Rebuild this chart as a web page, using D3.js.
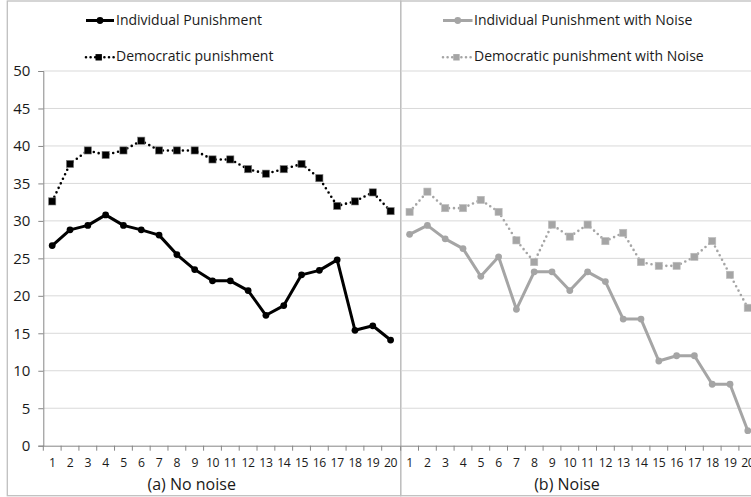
<!DOCTYPE html>
<html>
<head>
<meta charset="utf-8">
<script src="https://cdn.jsdelivr.net/npm/d3@7"></script>
<style>
  html, body { margin: 0; padding: 0; background: #fff; }
  svg { display: block; font-family: "Open Sans", sans-serif; }
</style>
</head>
<body>
<svg id="chart" width="751" height="497"></svg>
<script>
// ---- data ----
const rounds = d3.range(1, 21);
const yTicks = [0, 5, 10, 15, 20, 25, 30, 35, 40, 45, 50];
const individual = [26.7, 28.8, 29.4, 30.8, 29.4, 28.8, 28.1, 25.5, 23.5, 22.0, 22.0, 20.7, 17.4, 18.7, 22.8, 23.4, 24.8, 15.4, 16.0, 14.1];
const democratic = [32.6, 37.6, 39.4, 38.8, 39.4, 40.7, 39.4, 39.4, 39.4, 38.2, 38.2, 36.9, 36.3, 36.9, 37.6, 35.7, 32.0, 32.6, 33.8, 31.3];
const individualNoise = [28.2, 29.4, 27.6, 26.3, 22.6, 25.2, 18.2, 23.2, 23.2, 20.7, 23.2, 21.9, 16.9, 16.9, 11.3, 12.0, 12.0, 8.2, 8.2, 2.0];
const democraticNoise = [31.2, 33.9, 31.7, 31.7, 32.8, 31.2, 27.4, 24.5, 29.5, 27.9, 29.5, 27.3, 28.4, 24.5, 24.0, 24.0, 25.2, 27.3, 22.8, 18.4];
const panelTitles = ["(a) No noise", "(b) Noise"];
const legendLabels = [["Individual Punishment", "Democratic punishment"],
                      ["Individual Punishment with Noise", "Democratic punishment with Noise"]];

const svg = d3.select("#chart");
const black = "#000000", gray = "#a5a5a5";
const borderCol = "#bfbfbf", gridCol = "#d9d9d9", axisCol = "#868686";

const yTop = 71, yBottom = 445.7;
const y = d3.scaleLinear().domain([0, 50]).range([yBottom, yTop]);

// panel frames
svg.append("rect").attr("x", 7.3).attr("y", 1).attr("width", 393.4).attr("height", 494.7)
  .attr("fill", "none").attr("stroke", borderCol).attr("stroke-width", 1.3);
svg.append("rect").attr("x", 400.7).attr("y", 1).attr("width", 400).attr("height", 494.7)
  .attr("fill", "none").attr("stroke", borderCol).attr("stroke-width", 1.3);

const panels = [
  { range: [43.3, 399.5], color: black, ind: individual, dem: democratic, title: panelTitles[0], titleX: 191.7,
    legendLine: [86, 114], legendText: 116, legend: legendLabels[0], yAxis: true, gridX: [43.3, 400] },
  { range: [400.7, 756.7], color: gray, ind: individualNoise, dem: democraticNoise, title: panelTitles[1], titleX: 567,
    legendLine: [443, 472.5], legendText: 474, legend: legendLabels[1], yAxis: false, gridX: [401.5, 751] }
];

panels.forEach(p => {
  const x = d3.scaleBand().domain(rounds).range(p.range).padding(0);
  const cx = d => x(d) + x.bandwidth() / 2;
  const g = svg.append("g");

  // gridlines
  g.selectAll("line.grid").data(yTicks.filter(t => t > 0)).join("line")
    .attr("x1", p.gridX[0]).attr("x2", p.gridX[1])
    .attr("y1", d => y(d)).attr("y2", d => y(d))
    .attr("stroke", gridCol).attr("stroke-width", 1);

  // y axis
  if (p.yAxis) {
    const ya = g.append("g").attr("transform", `translate(${p.range[0]},0)`)
      .call(d3.axisLeft(y).tickValues(yTicks).tickSize(5).tickPadding(8));
    ya.select(".domain").attr("stroke", axisCol).attr("stroke-width", 1);
    ya.selectAll(".tick line").attr("stroke", axisCol);
    ya.selectAll(".tick text").attr("font-size", 15).attr("fill", "#1a1a1a")
      .attr("font-family", "'Open Sans', sans-serif");
  }

  // x axis
  const xa = g.append("g").attr("transform", `translate(0,${yBottom})`)
    .call(d3.axisBottom(x).tickSize(0).tickPadding(13));
  xa.select(".domain").attr("stroke", axisCol).attr("stroke-width", 1);
  xa.selectAll(".tick text").attr("font-size", 12.2).attr("fill", "#1a1a1a")
    .attr("font-family", "'Open Sans', sans-serif").attr("letter-spacing", -0.4);
  // category boundary tick marks
  g.selectAll("line.xt").data(rounds).join("line")
    .attr("x1", d => x(d)).attr("x2", d => x(d))
    .attr("y1", yBottom).attr("y2", yBottom + 5)
    .attr("stroke", axisCol).attr("stroke-width", 1);

  // title
  g.append("text").attr("x", p.titleX).attr("y", 486).attr("text-anchor", "middle")
    .attr("dominant-baseline", "middle").attr("font-size", 16).attr("fill", "#1a1a1a")
    .text(p.title);

  const line = d3.line().x((d, i) => cx(rounds[i])).y(d => y(d));

  // democratic dotted
  g.append("path").datum(p.dem).attr("d", line).attr("fill", "none")
    .attr("stroke", p.color).attr("stroke-width", 2.6)
    .attr("stroke-dasharray", "0 5").attr("stroke-linecap", "round");
  g.selectAll("rect.m").data(p.dem).join("rect")
    .attr("x", (d, i) => cx(rounds[i]) - 3.6).attr("y", d => y(d) - 3.6)
    .attr("width", 7.2).attr("height", 7.2)
    .attr("fill", p.color).attr("stroke", p.color === black ? "#7f7f7f" : "#bdbdbd").attr("stroke-width", 0.6);

  // individual solid
  g.append("path").datum(p.ind).attr("d", line).attr("fill", "none")
    .attr("stroke", p.color).attr("stroke-width", 3).attr("stroke-linejoin", "round");
  g.selectAll("circle.m").data(p.ind).join("circle")
    .attr("cx", (d, i) => cx(rounds[i])).attr("cy", d => y(d)).attr("r", 3.4)
    .attr("fill", p.color);

  // legend
  const [l0, l1] = p.legendLine;
  const lm = (l0 + l1) / 2;
  const lg = svg.append("g");
  lg.append("line").attr("x1", l0).attr("x2", l1).attr("y1", 20.5).attr("y2", 20.5)
    .attr("stroke", p.color).attr("stroke-width", 3);
  lg.append("circle").attr("cx", lm).attr("cy", 20.5).attr("r", 3.4).attr("fill", p.color);
  lg.append("line").attr("x1", l0).attr("x2", l1).attr("y1", 57.3).attr("y2", 57.3)
    .attr("stroke", p.color).attr("stroke-width", 2.6)
    .attr("stroke-dasharray", "0 4.6").attr("stroke-linecap", "round");
  lg.append("rect").attr("x", lm - 3.2 - 1.3).attr("y", 57.3 - 3.2).attr("width", 6.4).attr("height", 6.4)
    .attr("fill", p.color);
  lg.append("text").attr("x", p.legendText).attr("y", 21).attr("dominant-baseline", "middle")
    .attr("font-size", 14).attr("fill", "#1a1a1a").text(p.legend[0]);
  lg.append("text").attr("x", p.legendText).attr("y", 57.5).attr("dominant-baseline", "middle")
    .attr("font-size", 14).attr("fill", "#1a1a1a").text(p.legend[1]);
});
</script>
</body>
</html>
